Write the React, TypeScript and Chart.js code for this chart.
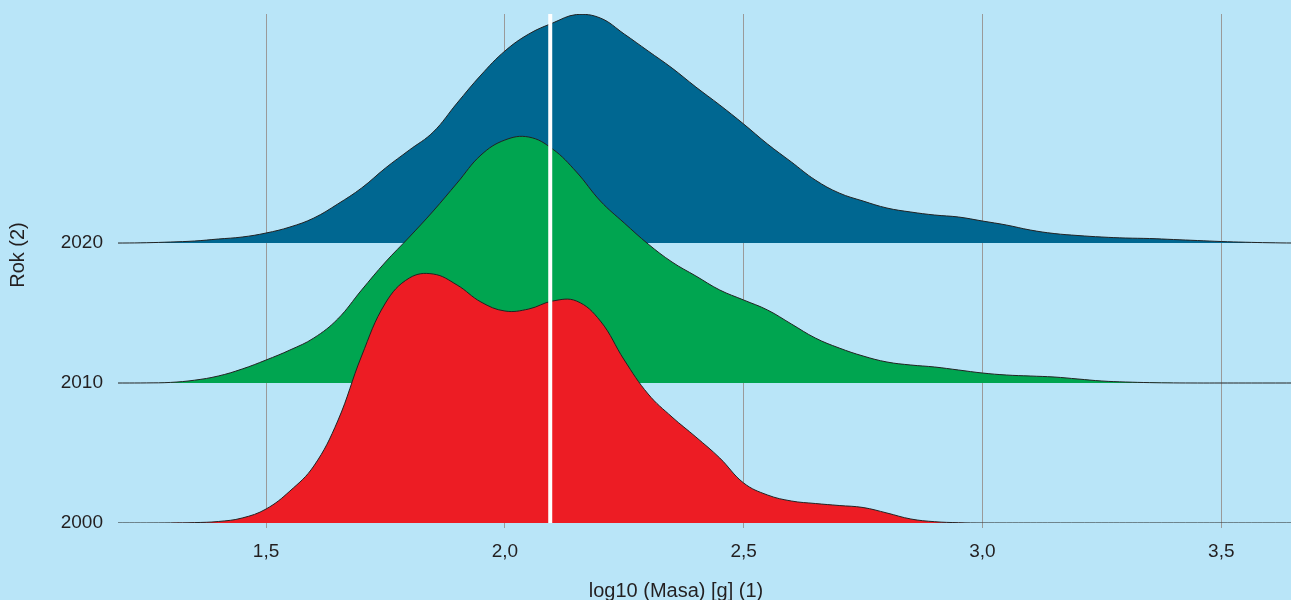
import React, { useEffect, useRef } from "react";
import { Chart, registerables } from "chart.js";

Chart.register(...registerables);

// x grid of the density estimates (log10 of mass in grams)
const X_VALUES = [
  1.15, 1.2, 1.25, 1.3, 1.35, 1.4, 1.45, 1.5, 1.55, 1.6, 1.65, 1.7, 1.75, 1.8, 1.85, 1.9, 1.95,
  2.0, 2.05, 2.1, 2.15, 2.2, 2.25, 2.3, 2.35, 2.4, 2.45, 2.5, 2.55, 2.6, 2.65, 2.7, 2.75, 2.8,
  2.85, 2.9, 2.95, 3.0, 3.05, 3.1, 3.15, 3.2, 3.25, 3.3, 3.35, 3.4, 3.45, 3.5, 3.55, 3.6, 3.65, 3.7,
];

// ridge heights (density, arbitrary units) for each year
const DENSITY_2000 = [
  0, 0, 0, 0.1, 0.4, 1.5, 5, 14, 32, 57, 102, 167, 220, 245, 249, 238, 221,
  212, 214, 222, 222, 202, 163, 129, 106, 86, 65, 40, 28, 22, 19.5, 17.5, 15.5, 10,
  4, 1.3, 0.3, 0, 0, 0, 0, 0, 0, 0, 0, 0, 0, 0, 0, 0, 0, 0,
];
const DENSITY_2010 = [
  0, 0, 0.1, 0.6, 2.8, 7, 14, 23, 33, 45, 64, 93, 121, 146, 172, 200, 228,
  243, 246, 234, 211, 182, 160, 139, 121, 107, 93, 83, 73, 59, 45, 35, 27, 21,
  18, 16, 13, 10, 8, 7, 6, 4, 2, 1, 0.4, 0.1, 0, 0, 0, 0, 0, 0,
];
const DENSITY_2020 = [
  0, 0, 0.3, 1, 2, 4, 6, 10, 16, 25, 39, 55, 75, 93, 111, 140, 168,
  192, 209, 220, 228.5, 225, 209, 192, 175, 156, 138, 119, 99, 81, 63, 50, 42, 35,
  31, 28, 26, 22, 18, 13, 9.5, 7.5, 6, 5, 4.5, 3.5, 2.5, 1.5, 0.8, 0.3, 0, 0,
];

const YEARS = [2000, 2010, 2020];
const YEAR_LABELS = ["2000", "2010", "2020"];
const X_TICKS = [1.5, 2.0, 2.5, 3.0, 3.5];
const X_TICK_LABELS = ["1,5", "2,0", "2,5", "3,0", "3,5"];
const MEDIAN_LINE = 2.095;
const X_TITLE = "log10 (Masa) [g] (1)";
const Y_TITLE = "Rok (2)";

const X_MIN = 1.19;
const X_MAX = 3.646;
const Y_MIN = 2000;
const Y_MAX = 2036.36;
const RIDGE_SCALE = 1 / 14; // years of axis per density unit

const COLORS = ["#ED1C24", "#00A550", "#006791"];
const BG = "#B9E5F8";
const TEXT = "#231F20";
const FONT = "'Liberation Sans', Arial, Helvetica, sans-serif";

function ridge(year: number, dens: number[]) {
  return X_VALUES.map((x, i) => ({ x, y: year + dens[i] * RIDGE_SCALE }));
}

// axis titles, placed like in the (cropped) original figure
const axisTitles = {
  id: "axisTitles",
  afterDraw(chart: any) {
    const ctx = chart.ctx;
    ctx.save();
    ctx.font = `20px ${FONT}`;
    ctx.fillStyle = TEXT;
    ctx.textAlign = "center";
    ctx.textBaseline = "middle";
    ctx.fillText(X_TITLE, 676, 591);
    ctx.translate(18, 255);
    ctx.rotate(-Math.PI / 2);
    ctx.fillText(Y_TITLE, 0, 0);
    ctx.restore();
  },
};

export default function App() {
  const ref = useRef<HTMLCanvasElement | null>(null);

  useEffect(() => {
    if (!ref.current) return;
    const densities = [DENSITY_2000, DENSITY_2010, DENSITY_2020];
    const ridgeSets = YEARS.map((year, i) => ({
      label: YEAR_LABELS[i],
      data: ridge(year, densities[i]),
      borderColor: "#222222",
      borderWidth: 1,
      backgroundColor: COLORS[i],
      fill: { value: year },
      pointRadius: 0,
      tension: 0.4,
    }));

    const chart = new Chart(ref.current, {
      type: "line",
      data: {
        datasets: [
          {
            label: "median",
            data: [
              { x: MEDIAN_LINE, y: Y_MIN },
              { x: MEDIAN_LINE, y: Y_MAX },
            ],
            borderColor: "#FFFFFF",
            borderWidth: 4,
            fill: false,
            pointRadius: 0,
            clip: 0,
          } as any,
          ...ridgeSets,
        ],
      },
      options: {
        responsive: false,
        animation: false,
        layout: { padding: { top: 14, left: 0, right: 0, bottom: 0 } },
        plugins: {
          legend: { display: false },
          tooltip: { enabled: false },
        },
        scales: {
          x: {
            type: "linear",
            min: X_MIN,
            max: X_MAX,
            afterBuildTicks: (s: any) => {
              s.ticks = X_TICKS.map((v) => ({ value: v }));
            },
            afterFit: (s: any) => {
              s.height = 77;
              s.paddingLeft = 0;
              s.paddingRight = 0;
            },
            ticks: {
              callback: (_v: any, i: number) => X_TICK_LABELS[i],
              font: { family: FONT, size: 19 },
              color: TEXT,
              padding: 12,
              maxRotation: 0,
            },
            grid: { color: "#9A9A9A", lineWidth: 1, tickLength: 5 },
            border: { display: false },
            title: { display: false },
          },
          y: {
            type: "linear",
            min: Y_MIN,
            max: Y_MAX,
            afterBuildTicks: (s: any) => {
              s.ticks = YEARS.map((v) => ({ value: v }));
            },
            afterFit: (s: any) => {
              s.width = 118;
              s.paddingTop = 0;
              s.paddingBottom = 0;
            },
            ticks: {
              callback: (_v: any, i: number) => YEAR_LABELS[i],
              font: { family: FONT, size: 19 },
              color: TEXT,
              padding: 15,
            },
            grid: { display: false, drawTicks: false },
            border: { display: false },
            title: { display: false },
          },
        },
      } as any,
      plugins: [axisTitles],
    });
    return () => chart.destroy();
  }, []);

  return (
    <div
      style={{
        position: "absolute",
        left: 0,
        top: 0,
        width: 1291,
        height: 600,
        background: BG,
        overflow: "hidden",
      }}
    >
      <canvas ref={ref} width={1291} height={600} />
    </div>
  );
}
